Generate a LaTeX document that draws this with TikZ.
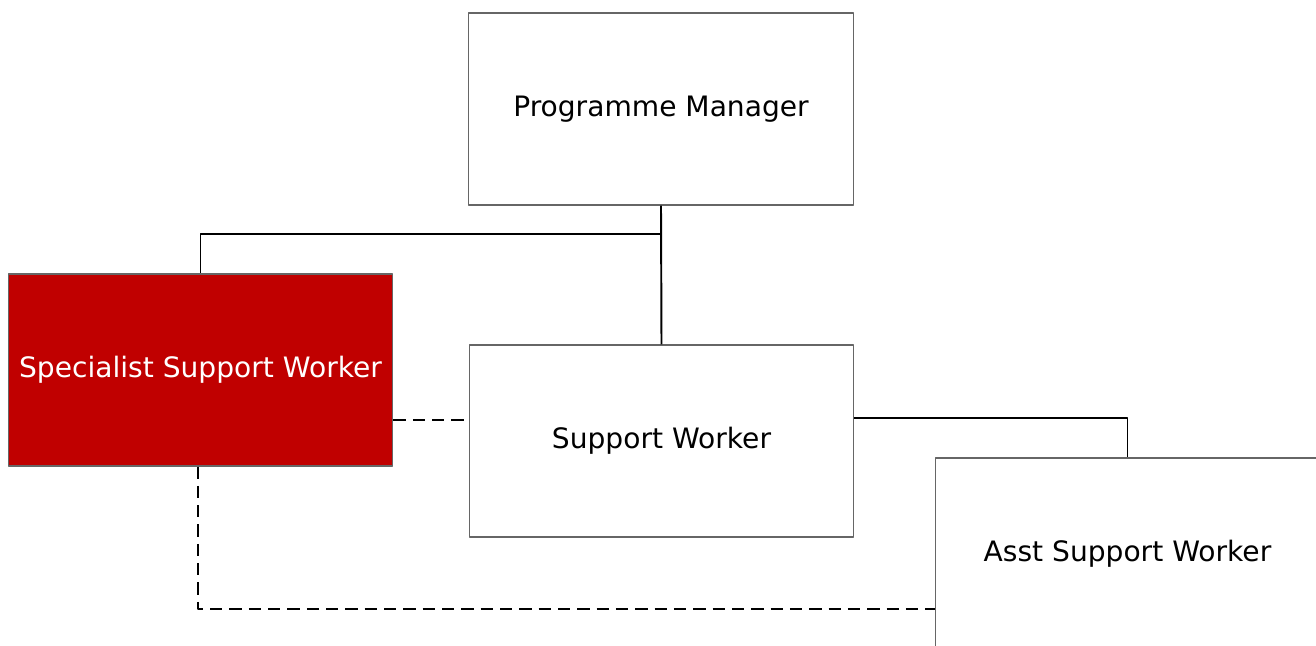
\documentclass[tikz,border=0pt]{standalone}
\usepackage{fontspec}
\setmainfont{DejaVu Sans}
\definecolor{darkred}{HTML}{C00000}
\begin{document}
\begin{tikzpicture}[x=0.02cm, y=-0.02cm, font=\fontsize{16}{19}\selectfont, line join=round,
	box/.style={draw=black!60, line width=0.6pt, fill=white, minimum width=7.7cm, minimum height=3.84cm, inner sep=0pt},
	link/.style={line width=1.1pt},
	dotlink/.style={line width=1.1pt, dash pattern=on 7pt off 4pt}]
	\useasboundingbox (0,0) rectangle (1316,646);
	\begin{scope}
		\clip (0,0) rectangle (1316,646);
		\node[box] (pm) at (661,109) {Programme Manager};
		\node[box, fill=darkred, text=white] (ssw) at (200.5,370) {Specialist Support Worker};
		\node[box] (sw) at (661.5,441) {Support Worker};
		\node[box] (asw) at (1127.5,554) {Asst Support Worker};
		\coordinate (j1) at (661,234);
		\draw[link] (pm.south) -- (j1) -| (ssw.north);
		\draw[link] (pm.south) -- (sw.north);
		\draw[link] (sw.east |- 0,418) -| (asw.north);
		\draw[dotlink] (ssw.east |- 0,420) -- (sw.west |- 0,420);
		\draw[dotlink] ([xshift=-0.05cm]ssw.south) |- (asw.west |- 0,609);
	\end{scope}
\end{tikzpicture}
\end{document}
